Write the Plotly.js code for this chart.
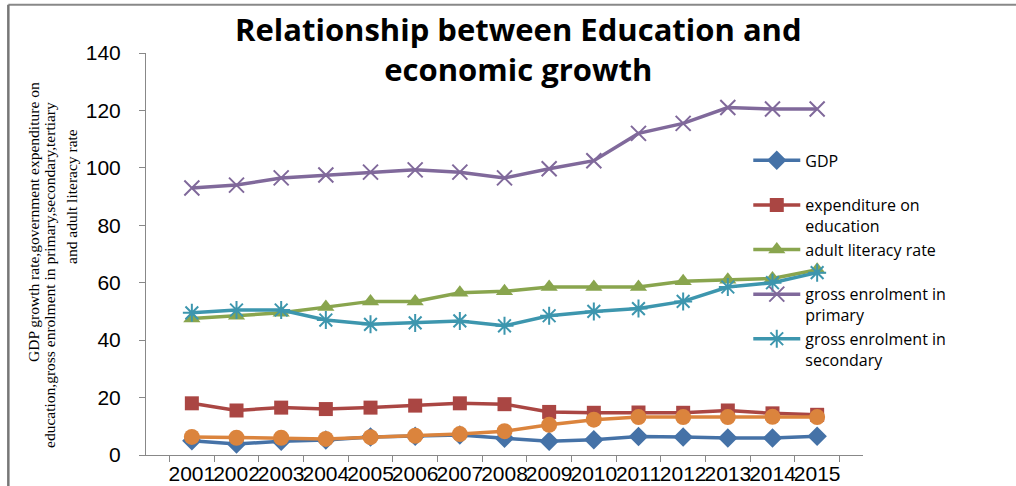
<!DOCTYPE html>
<html>
<head>
<meta charset="utf-8">
<script src="https://cdn.plot.ly/plotly-3.0.1.min.js"></script>
<style>html,body{margin:0;padding:0;background:#fff;}#chart{width:1016px;height:486px;}</style>
</head>
<body>
<div id="chart"></div>
<script>
const years = ['2001','2002','2003','2004','2005','2006','2007','2008','2009','2010','2011','2012','2013','2014','2015'];
const gdp = [5, 3.8, 4.8, 5.2, 6.3, 6.5, 7, 5.8, 4.8, 5.3, 6.4, 6.3, 5.9, 5.9, 6.5];
const expenditure = [18, 15.5, 16.5, 16, 16.5, 17.2, 18, 17.7, 15, 14.7, 14.8, 14.7, 15.5, 14.5, 14];
const literacy = [47.5, 48.5, 49.5, 51.5, 53.5, 53.5, 56.5, 57, 58.5, 58.5, 58.5, 60.5, 61, 61.5, 64.5];
const primary = [93, 94, 96.5, 97.5, 98.5, 99.3, 98.5, 96.5, 99.7, 102.5, 112, 115.5, 121, 120.5, 120.5];
const secondary = [49.5, 50.5, 50.5, 47, 45.5, 46, 46.7, 45, 48.5, 50, 51, 53.5, 58.5, 60, 63.5];
const tertiary = [6.3, 6, 6, 5.6, 6.2, 6.7, 7.3, 8.3, 10.5, 12.3, 13.2, 13.2, 13.2, 13.3, 13.2];

const names = ['GDP<br>&nbsp;', 'expenditure on<br>education', 'adult literacy rate<br>&nbsp;', 'gross enrolment in<br>primary', 'gross enrolment in<br>secondary'];
const titleText = 'Relationship between Education and<br>economic growth';
const yTitleLines = ['GDP growth rate,government expenditure on', 'education,gross enrolment in primary,secondary,tertiary', 'and adult literacy rate'];

function tr(y, name, color, symbol, size, openLine, showlegend) {
  const m = {symbol: symbol, size: size, color: color};
  if (openLine) m.line = {color: color, width: 2};
  return {x: years, y: y, name: name, type: 'scatter', mode: 'lines+markers',
    line: {color: color, width: 3.5}, marker: m, showlegend: showlegend, cliponaxis: false};
}

const data = [
  tr(gdp, names[0], '#4572A7', 'diamond', 15, false, true),
  tr(expenditure, names[1], '#AA4643', 'square', 14, false, true),
  tr(literacy, names[2], '#89A54E', 'triangle-up', 15, false, true),
  tr(primary, names[3], '#80699B', 'x-thin-open', 15, true, true),
  tr(secondary, names[4], '#3D96AE', 'asterisk-open', 15, true, true),
  tr(tertiary, 'tertiary', '#DB843D', 'circle', 16, false, false)
];

function yAnn(text, x, y) {
  return {text: text, xref: 'paper', yref: 'paper', x: x, y: y, xanchor: 'center', yanchor: 'middle',
    textangle: -90, showarrow: false, font: {family: 'Liberation Serif, serif', size: 15.5, color: '#000'}};
}

const layout = {
  width: 1016, height: 486,
  margin: {l: 146, r: 153, t: 53, b: 31},
  paper_bgcolor: '#fff', plot_bgcolor: 'rgba(0,0,0,0)',
  font: {family: 'Liberation Sans, Arial, sans-serif', color: '#000'},
  xaxis: {type: 'category', showgrid: false, zeroline: false, showline: true, linecolor: '#888', linewidth: 1,
    ticks: 'outside', tickson: 'boundaries', ticklen: 6, tickcolor: '#888', tickangle: 0,
    tickfont: {size: 21, color: '#000'}},
  yaxis: {range: [0, 140], dtick: 20, showgrid: false, zeroline: false, showline: true, linecolor: '#888', linewidth: 1,
    ticks: 'outside', ticklen: 6, tickcolor: '#888', tickfont: {size: 21, color: '#000'}, ticklabelstandoff: 14},
  legend: {x: 0.84, xanchor: 'left', y: 0.775, yanchor: 'top', bgcolor: 'rgba(0,0,0,0)',
    font: {family: 'Open Sans, sans-serif', size: 16, color: '#000'}, itemwidth: 47, valign: 'top', tracegroupgap: 0},
  annotations: [
    {text: '<b>' + titleText + '</b>', xref: 'paper', yref: 'paper', x: 0.52, y: 1.01, xanchor: 'center', yanchor: 'middle',
      showarrow: false, font: {family: 'Open Sans, sans-serif', size: 31, color: '#000'}},
    yAnn(yTitleLines[0], -0.1576, 0.5796),
    yAnn(yTitleLines[1], -0.1339, 0.4478),
    yAnn(yTitleLines[2], -0.1032, 0.6418)
  ],
  shapes: [
    {type: 'line', xref: 'paper', yref: 'paper', x0: -0.192, x1: 1.3, y0: 1.12, y1: 1.12, line: {color: '#888', width: 2}},
    {type: 'line', xref: 'paper', yref: 'paper', x0: -0.192, x1: -0.192, y0: -0.1, y1: 1.12, line: {color: '#777', width: 2.5}}
  ]
};

Plotly.newPlot('chart', data, layout, {displayModeBar: false, staticPlot: true});
</script>
</body>
</html>
